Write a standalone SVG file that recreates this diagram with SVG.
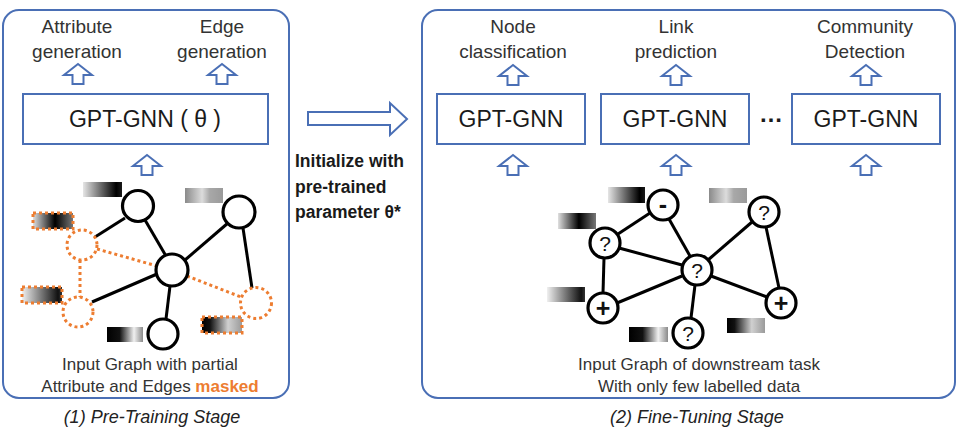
<svg xmlns="http://www.w3.org/2000/svg" xmlns:xlink="http://www.w3.org/1999/xlink" width="960" height="434" viewBox="0 0 960 434">
<defs>
<style>
.panel{fill:#fff;stroke:#4a6fb5;stroke-width:2}
.box{fill:#fff;stroke:#4a6fb5;stroke-width:2}
.up{fill:#fff;stroke:#4a6fb5;stroke-width:2;stroke-linejoin:miter}
.lbl{font-family:"Liberation Sans",Arial,sans-serif;font-size:19px;fill:#333;text-anchor:middle}
.gt{font-family:"Liberation Sans",Arial,sans-serif;font-size:23px;fill:#1a1a1a;text-anchor:middle}
.bt{font-family:"Liberation Sans",Arial,sans-serif;font-size:17px;fill:#333;text-anchor:middle}
.cap{font-family:"Liberation Sans",Arial,sans-serif;font-size:18px;font-style:italic;fill:#222;text-anchor:middle}
.init{font-family:"Liberation Sans",Arial,sans-serif;font-size:17.5px;font-weight:bold;fill:#1a1a1a}
.nd{fill:#fff;stroke:#000;stroke-width:3.2}
.mnd{fill:none;stroke:#ED7D31;stroke-width:3;stroke-dasharray:3 3}
.e{stroke:#000;stroke-width:3;fill:none}
.me{stroke:#ED7D31;stroke-width:3;stroke-dasharray:3 3;fill:none}
.mk{stroke:#ED7D31;stroke-width:3;stroke-dasharray:3 3}
.sym{font-family:"Liberation Sans",Arial,sans-serif;font-size:21px;fill:#111;text-anchor:middle}
.pm{font-family:"Liberation Sans",Arial,sans-serif;font-size:25px;font-weight:bold;fill:#111;text-anchor:middle}
</style>
<path id="up" d="M0,0 L14,11 L5.5,11 L5.5,20 L-5.5,20 L-5.5,11 L-14,11 Z"/>
<linearGradient id="g1"><stop offset="0" stop-color="#e6e6e6"/><stop offset="0.85" stop-color="#000"/><stop offset="1" stop-color="#1a1a1a"/></linearGradient>
<linearGradient id="g2"><stop offset="0" stop-color="#8a8a8a"/><stop offset="0.45" stop-color="#dcdcdc"/><stop offset="0.65" stop-color="#a8a8a8"/><stop offset="1" stop-color="#9a9a9a"/></linearGradient>
<linearGradient id="g3"><stop offset="0" stop-color="#e0e0e0"/><stop offset="0.55" stop-color="#000"/><stop offset="1" stop-color="#777"/></linearGradient>
<linearGradient id="g4"><stop offset="0" stop-color="#f0f0f0"/><stop offset="0.9" stop-color="#111"/><stop offset="1" stop-color="#333"/></linearGradient>
<linearGradient id="g5"><stop offset="0" stop-color="#000"/><stop offset="0.2" stop-color="#111"/><stop offset="0.65" stop-color="#d0d0d0"/><stop offset="1" stop-color="#9a9a9a"/></linearGradient>
<linearGradient id="g6"><stop offset="0" stop-color="#000"/><stop offset="0.35" stop-color="#111"/><stop offset="0.75" stop-color="#f0f0f0"/><stop offset="1" stop-color="#8a8a8a"/></linearGradient>
</defs>
<rect width="960" height="434" fill="#fff"/>

<g id="panel-pretrain">
<rect class="panel" x="3" y="10" width="286" height="388" rx="16"/>
</g>
<g id="panel-finetune">
<rect class="panel" x="422" y="10" width="533" height="388" rx="16"/>
</g>

<g id="label-attr-gen">
<text class="lbl" x="77" y="33">Attribute</text>
<text class="lbl" x="77" y="58">generation</text>
</g>
<g id="label-edge-gen">
<text class="lbl" x="222" y="33">Edge</text>
<text class="lbl" x="222" y="58">generation</text>
</g>
<g id="label-node-cls">
<text class="lbl" x="513" y="33">Node</text>
<text class="lbl" x="513" y="58">classification</text>
</g>
<g id="label-link-pred">
<text class="lbl" x="676" y="33">Link</text>
<text class="lbl" x="676" y="58">prediction</text>
</g>
<g id="label-community">
<text class="lbl" x="865" y="33">Community</text>
<text class="lbl" x="865" y="58">Detection</text>
</g>

<g id="gptgnn-theta">
<rect class="box" x="23" y="94" width="245" height="50"/>
<text class="gt" x="145" y="127">GPT-GNN ( θ )</text>
</g>
<g id="gptgnn-1">
<rect class="box" x="437" y="94" width="148" height="50"/>
<text class="gt" x="511" y="127">GPT-GNN</text>
</g>
<g id="gptgnn-2">
<rect class="box" x="601" y="94" width="148" height="50"/>
<text class="gt" x="675" y="127">GPT-GNN</text>
</g>
<g id="ellipsis">
<text x="771" y="122" font-family="Liberation Sans, Arial, sans-serif" font-size="24" font-weight="bold" fill="#1a1a1a" text-anchor="middle">…</text>
</g>
<g id="gptgnn-3">
<rect class="box" x="792" y="94" width="148" height="50"/>
<text class="gt" x="866" y="127">GPT-GNN</text>
</g>

<g id="init-transfer">
<polygon points="308,112 390,112 390,103 407,119 390,135 390,125 308,125" fill="#fff" stroke="#4a6fb5" stroke-width="2"/>
<text class="init" x="295" y="167">Initialize with</text>
<text class="init" x="295" y="193">pre-trained</text>
<text class="init" x="295" y="218">parameter θ*</text>
</g>

<g id="connectors">
<use href="#up" class="up" x="78" y="64"/>
<use href="#up" class="up" x="222" y="64"/>
<use href="#up" class="up" x="147" y="155"/>
<use href="#up" class="up" x="513" y="65"/>
<use href="#up" class="up" x="676" y="65"/>
<use href="#up" class="up" x="866" y="65"/>
<use href="#up" class="up" x="513" y="155"/>
<use href="#up" class="up" x="676" y="155"/>
<use href="#up" class="up" x="866" y="155"/>
<!-- left graph edges -->
<line class="e" x1="95" y1="237" x2="125" y2="218"/>
<line class="e" x1="145" y1="220" x2="166" y2="256"/>
<line class="e" x1="185" y1="260" x2="228" y2="223"/>
<line class="e" x1="243" y1="228" x2="252" y2="288"/>
<line class="e" x1="157" y1="274" x2="92" y2="302"/>
<line class="e" x1="170" y1="286" x2="166" y2="319"/>
<line class="me" x1="97" y1="249" x2="157" y2="266"/>
<line class="me" x1="80" y1="260" x2="80" y2="297"/>
<line class="me" x1="187" y1="276" x2="241" y2="297"/>
<!-- right graph edges -->
<line class="e" x1="650" y1="213" x2="618" y2="234"/>
<line class="e" x1="669" y1="219" x2="690" y2="256"/>
<line class="e" x1="619" y1="248" x2="682" y2="265"/>
<line class="e" x1="604" y1="258" x2="603" y2="293"/>
<line class="e" x1="617" y1="303" x2="682" y2="276"/>
<line class="e" x1="708" y1="260" x2="752" y2="222"/>
<line class="e" x1="711" y1="276" x2="767" y2="297"/>
<line class="e" x1="766" y1="227" x2="779" y2="288"/>
<line class="e" x1="695" y1="285" x2="691" y2="318"/>
</g>

<g id="pre-graph">
<g id="attr-a"><rect x="83" y="182" width="39" height="15" fill="url(#g1)"/></g>
<g id="attr-b"><rect x="185" y="188" width="38" height="15" fill="url(#g2)"/></g>
<g id="attr-e-masked"><rect x="33" y="213" width="40" height="16" fill="url(#g3)" class="mk"/></g>
<g id="attr-f-masked"><rect x="22" y="287" width="40" height="16" fill="url(#g4)" class="mk"/></g>
<g id="attr-g-masked"><rect x="202" y="317" width="40" height="16" fill="url(#g5)" class="mk"/></g>
<g id="attr-d"><rect x="107" y="327" width="36" height="15" fill="url(#g6)"/></g>
<g id="node-a"><circle class="nd" cx="138" cy="206" r="15.5"/></g>
<g id="node-b"><circle class="nd" cx="239" cy="212" r="16"/></g>
<g id="node-c"><circle class="nd" cx="172" cy="270" r="16"/></g>
<g id="node-d"><circle class="nd" cx="163" cy="334" r="15"/></g>
<g id="node-e-masked"><circle class="mnd" cx="82" cy="245" r="15"/></g>
<g id="node-f-masked"><circle class="mnd" cx="78" cy="312" r="15"/></g>
<g id="node-g-masked"><circle class="mnd" cx="256" cy="303" r="15.5"/></g>
</g>

<g id="fine-graph">
<g id="attr-r1"><rect x="608" y="187" width="37" height="16" fill="url(#g1)"/></g>
<g id="attr-r2"><rect x="558" y="213" width="38" height="16" fill="url(#g3)"/></g>
<g id="attr-r3"><rect x="709" y="188" width="38" height="15" fill="url(#g2)"/></g>
<g id="attr-r4"><rect x="547" y="287" width="38" height="15" fill="url(#g4)"/></g>
<g id="attr-r5"><rect x="629" y="327" width="39" height="15" fill="url(#g6)"/></g>
<g id="attr-r6"><rect x="727" y="318" width="38" height="15" fill="url(#g5)"/></g>
<g id="node-minus"><circle class="nd" cx="663" cy="205" r="15"/><text class="pm" x="663" y="213">-</text></g>
<g id="node-q-left"><circle class="nd" cx="605" cy="243" r="15"/><text class="sym" x="605" y="250.5">?</text></g>
<g id="node-q-center"><circle class="nd" cx="697" cy="270" r="15"/><text class="sym" x="697" y="277.5">?</text></g>
<g id="node-q-topright"><circle class="nd" cx="764" cy="212" r="15"/><text class="sym" x="764" y="219.5">?</text></g>
<g id="node-plus-left"><circle class="nd" cx="603" cy="308" r="15"/><text class="pm" x="603" y="317">+</text></g>
<g id="node-plus-right"><circle class="nd" cx="781" cy="303" r="15"/><text class="pm" x="781" y="312">+</text></g>
<g id="node-q-bottom"><circle class="nd" cx="688" cy="333" r="15"/><text class="sym" x="688" y="340.5">?</text></g>
</g>

<g id="pre-desc">
<text class="bt" x="150" y="370">Input Graph with partial</text>
<text class="bt" x="150" y="392">Attribute and Edges <tspan fill="#ED7D31" font-weight="bold">masked</tspan></text>
</g>
<g id="fine-desc">
<text class="bt" x="699" y="370">Input Graph of downstream task</text>
<text class="bt" x="699" y="392">With only few labelled data</text>
</g>
<g id="captions">
<text class="cap" x="152" y="423">(1) Pre-Training Stage</text>
<text class="cap" x="697" y="423">(2) Fine-Tuning Stage</text>
</g>
</svg>
